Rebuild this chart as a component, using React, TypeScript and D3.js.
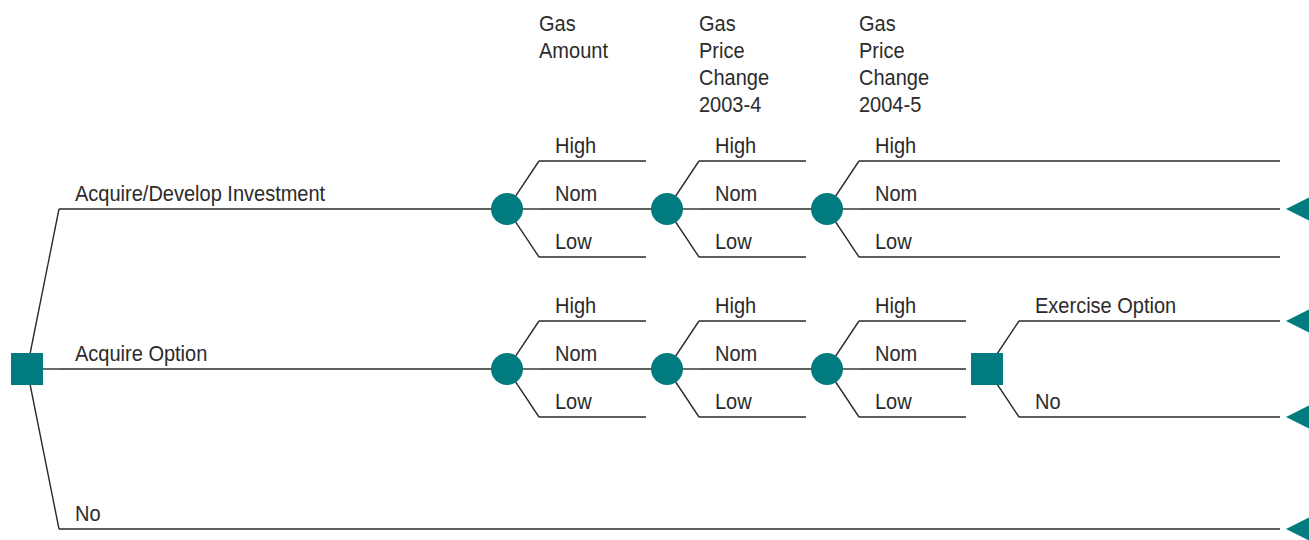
import { useEffect, useRef } from 'react';
import * as d3 from 'd3';

// decision tree content
const decisions = ['Acquire/Develop Investment', 'Acquire Option', 'No'];
const outcomes = ['High', 'Nom', 'Low'];
const uncertainties = [
  ['Gas', 'Amount'],
  ['Gas', 'Price', 'Change', '2003-4'],
  ['Gas', 'Price', 'Change', '2004-5'],
];
const optionChoices = ['Exercise Option', 'No'];

const W = 1309;
const H = 540;
const TEAL = '#007b80';
const INK = '#2b2b2b';

export default function App() {
  const svgRef = useRef<SVGSVGElement>(null);

  useEffect(() => {
    if (!svgRef.current) return;
    const svg = d3.select(svgRef.current);
    svg.selectAll('*').remove();

    const rowY = d3.scalePoint<string>().domain(decisions).range([209, 529]);
    const branchDy = d3.scalePoint<string>().domain(outcomes).range([-48, 48]);
    const choiceDy = d3.scalePoint<string>().domain(optionChoices).range([-48, 48]);
    const stageX = d3.scaleLinear().domain([0, 1]).range([507, 667]);

    const rootX = 27;
    const rootY = rowY('Acquire Option')!;
    const fork = 32; // horizontal length of slanted leg
    const legEnd = 139; // from node centre to branch end
    const endX = 1280;
    const tipX = 1286;

    const g = svg.append('g');

    const line = (x1: number, y1: number, x2: number, y2: number) =>
      g.append('line')
        .attr('x1', x1).attr('y1', y1).attr('x2', x2).attr('y2', y2)
        .attr('stroke', INK).attr('stroke-width', 1.4);

    const label = (txt: string, x: number, y: number) =>
      g.append('text')
        .attr('transform', `translate(${x},${y}) scale(0.91,1)`)
        .attr('font-family', '"Liberation Sans", Arial, sans-serif')
        .attr('font-size', '22px')
        .attr('fill', INK)
        .text(txt);

    const triangle = (y: number) =>
      g.append('path')
        .attr('d', `M${tipX},${y} L${tipX + 30},${y - 15} L${tipX + 30},${y + 15} Z`)
        .attr('fill', TEAL);

    // root decision branches
    decisions.forEach((d, i) => {
      const y = rowY(d)!;
      const cx = rootX + fork;
      line(rootX, rootY, cx, y);
      const stop = i === 2 ? endX : stageX(0);
      line(cx, y, stop, y);
      label(d, cx + 16, y - 8);
      if (i === 2) triangle(y);
    });

    // chance nodes on first two rows
    decisions.slice(0, 2).forEach((d, row) => {
      const y = rowY(d)!;
      uncertainties.forEach((_, s) => {
        const x = stageX(s);
        const last = s === uncertainties.length - 1;
        outcomes.forEach(o => {
          const by = y + branchDy(o)!;
          line(x, y, x + fork, by);
          let stop = x + legEnd;
          if (last && row === 0) stop = endX;
          if (o === 'Nom' && !last) stop = stageX(s + 1);
          line(x + fork, by, stop, by);
          label(o, x + fork + 16, by - 8);
        });
        if (last && row === 0) triangle(y);
      });
      uncertainties.forEach((_, s) => {
        g.append('circle')
          .attr('cx', stageX(s)).attr('cy', y).attr('r', 16)
          .attr('fill', TEAL);
      });
    });

    // option exercise decision
    const ox = stageX(3);
    const oy = rowY('Acquire Option')!;
    optionChoices.forEach(c => {
      const by = oy + choiceDy(c)!;
      line(ox, oy, ox + fork, by);
      line(ox + fork, by, endX, by);
      label(c, ox + fork + 16, by - 8);
      triangle(by);
    });
    g.append('rect')
      .attr('x', ox - 16).attr('y', oy - 16).attr('width', 32).attr('height', 32)
      .attr('fill', TEAL);

    // root square
    g.append('rect')
      .attr('x', rootX - 16).attr('y', rootY - 16).attr('width', 32).attr('height', 32)
      .attr('fill', TEAL);

    // column headers
    uncertainties.forEach((lines, s) => {
      lines.forEach((t, k) => {
        label(t, stageX(s) + fork, 31 + k * 27);
      });
    });
  }, []);

  return (
    <div style={{ position: 'absolute', left: 0, top: 0 }}>
      <svg ref={svgRef} width={W} height={H} style={{ display: 'block', background: '#fff' }} />
    </div>
  );
}
